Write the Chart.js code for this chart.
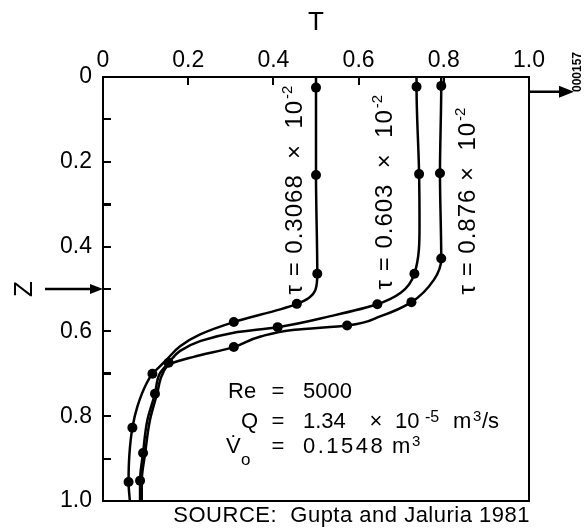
<!DOCTYPE html>
<html>
<head>
<meta charset="utf-8">
<script src="https://cdn.jsdelivr.net/npm/chart.js@4.4.0/dist/chart.umd.min.js"></script>
<style>
html,body{margin:0;padding:0;background:#fff;}
#wrap{width:586px;height:528px;position:relative;}
</style>
</head>
<body>
<div id="wrap"><canvas id="c" width="586" height="528"></canvas></div>
<script>
// ---- data ----
const xTickLabels = ['0', '0.2', '0.4', '0.6', '0.8', '1.0'];
const yTickLabels = ['0', '0.2', '0.4', '0.6', '0.8', '1.0'];

const tauLabels = ['τ = 0.3068  ×  10', 'τ = 0.603  ×  10', 'τ = 0.876 ×  10'];
const tauExponent = '-2';

// curve 1 : tau = 0.3068e-2
const curve1Z = [0, 0.025, 0.231, 0.464, 0.501, 0.521, 0.535, 0.548, 0.578, 0.607, 0.635, 0.666, 0.686, 0.700, 0.721, 0.776, 0.827, 0.890, 0.955, 1.0];
const curve1T = [0.500, 0.500, 0.500, 0.503, 0.499, 0.483, 0.455, 0.416, 0.307, 0.228, 0.181, 0.150, 0.130, 0.116, 0.103, 0.081, 0.069, 0.062, 0.060, 0.063];
const curve1Dot = [0, 1, 1, 1, 0, 0, 1, 0, 1, 0, 0, 0, 0, 1, 0, 0, 1, 0, 1, 0];

// curve 2 : tau = 0.603e-2
const curve2Z = [0, 0.023, 0.229, 0.350, 0.464, 0.509, 0.536, 0.564, 0.590, 0.603, 0.623, 0.646, 0.674, 0.700, 0.747, 0.810, 0.887, 0.952, 1.0];
const curve2T = [0.736, 0.736, 0.742, 0.743, 0.731, 0.699, 0.644, 0.534, 0.410, 0.307, 0.228, 0.181, 0.154, 0.133, 0.122, 0.104, 0.094, 0.087, 0.087];
const curve2Dot = [0, 1, 1, 0, 1, 0, 1, 0, 1, 0, 0, 0, 1, 0, 1, 0, 1, 1, 0];

// curve 3 : tau = 0.876e-2
const curve3Z = [0, 0.021, 0.227, 0.428, 0.478, 0.531, 0.564, 0.586, 0.596, 0.612, 0.637, 0.660, 0.676, 0.700, 0.747, 0.810, 0.887, 0.952, 1.0];
const curve3T = [0.794, 0.794, 0.791, 0.794, 0.777, 0.724, 0.652, 0.573, 0.450, 0.370, 0.307, 0.213, 0.160, 0.140, 0.127, 0.110, 0.099, 0.091, 0.091];
const curve3Dot = [0, 1, 1, 1, 0, 1, 0, 1, 0, 0, 1, 0, 0, 0, 0, 0, 0, 0, 0];

const FONT = '"Liberation Sans", Arial, Helvetica, sans-serif';

function toPoints(T, Z) { return T.map((t, i) => ({ x: t, y: Z[i] })); }
function curveDataset(T, Z, dots) {
  return {
    data: toPoints(T, Z),
    borderColor: '#000',
    borderWidth: 2.5,
    cubicInterpolationMode: 'monotone',
    pointRadius: dots.map(d => d ? 5 : 0),
    pointBackgroundColor: '#000',
    pointBorderWidth: 0,
    pointHoverRadius: 0,
    fill: false,
    clip: 3
  };
}

function near(v, t) { return Math.abs(v - t) < 1e-6; }

const decorPlugin = {
  id: 'decor',
  afterDraw(chart) {
    const ctx = chart.ctx;
    const xs = chart.scales.x, ys = chart.scales.y;
    const ca = chart.chartArea;
    const px = t => xs.getPixelForValue(t);
    const py = z => ys.getPixelForValue(z);
    ctx.save();
    ctx.fillStyle = '#000';
    ctx.strokeStyle = '#000';

    // rotated tau labels
    const tauCenterT = [0.447, 0.659, 0.854];
    const tauStartZ = [0.513, 0.501, 0.513];
    const size = 24;
    tauLabels.forEach((lab, i) => {
      const bx = px(tauCenterT[i]) + 0.36 * size;
      const by = py(tauStartZ[i]);
      ctx.save();
      ctx.translate(bx, by);
      ctx.rotate(-Math.PI / 2);
      ctx.letterSpacing = '1px';
      ctx.font = size + 'px ' + FONT;
      ctx.textAlign = 'left';
      ctx.textBaseline = 'alphabetic';
      ctx.fillText(lab, 0, 0);
      const w = ctx.measureText(lab).width;
      ctx.letterSpacing = '0px';
      ctx.font = '15px ' + FONT;
      ctx.fillText(tauExponent, w + 1, -10);
      ctx.restore();
    });

    // parameter block
    ctx.textBaseline = 'alphabetic';
    const fs = 22;
    const F = fs + 'px ' + FONT;
    const valX = 303;
    const eqX = 278;
    // Re
    let bl = 398;
    ctx.font = F;
    ctx.textAlign = 'left';
    ctx.fillText('Re', 228, bl);
    ctx.textAlign = 'center';
    ctx.fillText('=', eqX, bl);
    ctx.textAlign = 'left';
    ctx.fillText('5000', valX, bl);
    // Q
    bl = 428;
    ctx.fillText('Q', 241, bl);
    ctx.textAlign = 'center';
    ctx.fillText('=', eqX, bl);
    ctx.fillText('×', 376, bl);
    ctx.textAlign = 'left';
    ctx.fillText('1.34', valX, bl);
    ctx.fillText('10', 395, bl);
    ctx.font = '16px ' + FONT;
    ctx.fillText('-5', 425, bl - 6);
    ctx.font = F;
    ctx.fillText('m', 453, bl);
    ctx.font = '15px ' + FONT;
    ctx.fillText('3', 473, bl - 7);
    ctx.font = F;
    ctx.fillText('/s', 482, bl);
    // V
    bl = 453;
    ctx.fillText('V\u0307', 226, bl);
    ctx.font = '17px ' + FONT;
    ctx.fillText('o', 241, bl + 12);
    ctx.font = F;
    ctx.textAlign = 'center';
    ctx.fillText('=', eqX, bl);
    ctx.textAlign = 'left';
    ctx.save();
    ctx.letterSpacing = '2.5px';
    ctx.fillText('0.1548', valX, bl);
    ctx.restore();
    ctx.fillText('m', 392, bl);
    ctx.font = '15px ' + FONT;
    ctx.fillText('3', 412, bl - 7);

    // source line
    ctx.save();
    ctx.letterSpacing = '0.5px';
    ctx.font = '22px ' + FONT;
    ctx.textAlign = 'right';
    ctx.fillText('SOURCE:  Gupta and Jaluria 1981', ca.right + 1, ca.bottom + 21);
    ctx.restore();

    // arrow into left side at Z = 0.5
    const ay = py(0.5);
    ctx.lineWidth = 2.5;
    ctx.beginPath();
    ctx.moveTo(45, ay);
    ctx.lineTo(ca.left - 8, ay);
    ctx.stroke();
    ctx.beginPath();
    ctx.moveTo(ca.left, ay);
    ctx.lineTo(ca.left - 13, ay - 5);
    ctx.lineTo(ca.left - 13, ay + 5);
    ctx.closePath();
    ctx.fill();

    // arrow out of right side near top
    const ry = py(0.035);
    ctx.beginPath();
    ctx.moveTo(ca.right, ry);
    ctx.lineTo(ca.right + 35, ry);
    ctx.stroke();
    ctx.beginPath();
    ctx.moveTo(ca.right + 45, ry);
    ctx.lineTo(ca.right + 30, ry - 6);
    ctx.lineTo(ca.right + 30, ry + 6);
    ctx.closePath();
    ctx.fill();

    // figure number
    ctx.save();
    ctx.translate(578, 72);
    ctx.rotate(-Math.PI / 2);
    ctx.font = 'bold 12px ' + FONT;
    ctx.textAlign = 'center';
    ctx.textBaseline = 'middle';
    ctx.fillText('000157', 0, 0);
    ctx.restore();

    ctx.restore();
  }
};

function noPad(s) { s.paddingTop = 0; s.paddingBottom = 0; s.paddingLeft = 0; s.paddingRight = 0; }

new Chart(document.getElementById('c'), {
  type: 'line',
  data: {
    datasets: [
      curveDataset(curve1T, curve1Z, curve1Dot),
      curveDataset(curve2T, curve2Z, curve2Dot),
      curveDataset(curve3T, curve3Z, curve3Dot)
    ]
  },
  options: {
    indexAxis: 'y',
    responsive: false,
    devicePixelRatio: 1,
    animation: false,
    events: [],
    layout: { padding: { left: 0, top: 0, right: 57, bottom: 27 } },
    plugins: { legend: { display: false }, tooltip: { enabled: false } },
    scales: {
      x: {
        type: 'linear',
        position: 'top',
        min: 0, max: 1,
        afterFit: s => { s.height = 77; noPad(s); },
        ticks: {
          stepSize: 0.2,
          autoSkip: false,
          maxRotation: 0,
          padding: 11,
          color: '#000',
          font: { family: FONT, size: 23 },
          callback: v => { const i = Math.round(v / 0.2); return xTickLabels[i] !== undefined ? xTickLabels[i] : ''; }
        },
        grid: { drawOnChartArea: false, drawTicks: true, tickLength: -8, color: '#000', lineWidth: 2 },
        border: { display: true, color: '#000', width: 2 },
        title: { display: true, text: 'T', color: '#000', font: { family: FONT, size: 26 }, padding: { top: 7, bottom: 0 } }
      },
      y: {
        type: 'linear',
        position: 'left',
        reverse: true,
        min: 0, max: 1,
        afterFit: s => { s.width = 103; noPad(s); },
        ticks: {
          stepSize: 0.1,
          autoSkip: false,
          padding: 19,
          color: '#000',
          font: { family: FONT, size: 23 },
          callback: v => { const i = Math.round(v * 10); return i % 2 === 0 ? yTickLabels[i / 2] : ''; }
        },
        grid: {
          drawOnChartArea: false, drawTicks: true, tickLength: -8, color: '#000',
          lineWidth: c => (c.tick && (near(c.tick.value, 0.3) || near(c.tick.value, 0.7))) ? 3 : 2
        },
        border: { display: true, color: '#000', width: 2 },
        title: { display: true, text: 'Z', color: '#000', font: { family: FONT, size: 26 }, padding: { top: 9, bottom: 0 } }
      },
      x2: {
        type: 'linear',
        position: 'bottom',
        min: 0, max: 1,
        afterFit: s => { s.height = 0; noPad(s); },
        ticks: { display: false },
        grid: { display: false, drawTicks: false },
        border: { display: true, color: '#000', width: 2 }
      },
      y2: {
        type: 'linear',
        position: 'right',
        min: 0, max: 1,
        afterFit: s => { s.width = 0; noPad(s); },
        ticks: { display: false },
        grid: { display: false, drawTicks: false },
        border: { display: true, color: '#000', width: 2 }
      }
    }
  },
  plugins: [decorPlugin]
});
</script>
</body>
</html>
